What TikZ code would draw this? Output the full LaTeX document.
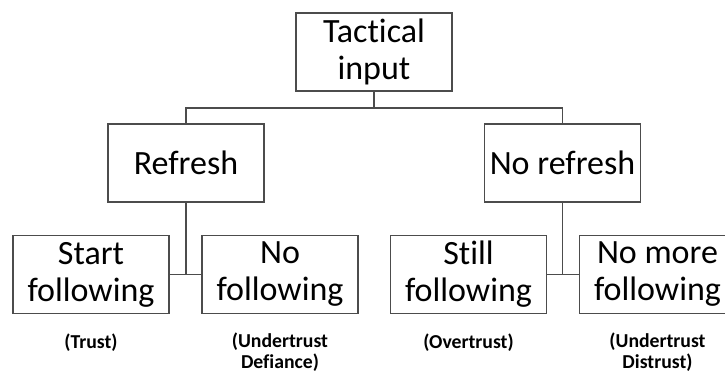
\documentclass[tikz,border=0pt]{standalone}
\usepackage{fontspec}
\setmainfont{Carlito}[Ligatures=NoCommon]
\usepackage{tikz}

\begin{document}
\begin{tikzpicture}[x=0.75pt, y=-0.75pt]
            \tikzstyle{choice}=[rectangle, draw=black!70, line width=0.8pt, minimum width=117pt, minimum height=58.5pt, inner sep=0pt, align=center, font=\fontsize{25.5}{27.75}\selectfont]
            \tikzstyle{result}=[align=center, font=\fontsize{14.8}{15.75}\selectfont\bfseries]
            \tikzstyle{link}=[draw=black!70, line width=0.8pt]

                \useasboundingbox (0,0) rectangle (725,374);
                \clip (0,0) rectangle (725,374);

                % Caixas
                \node[choice] (tact) at (374,52) {Tactical\\input};
                \node[choice] (refresh) at (186,163) {Refresh};
                \node[choice] (norefresh) at (562.5,163) {No refresh};
                \node[choice] (start) at (91,274.5) {Start\\following};
                \node[choice] (nofol) at (280,274.5) {No\\following};
                \node[choice] (still) at (468.5,274.5) {Still\\following};
                \node[choice] (nomore) at (657.5,274.5) {No more\\following};

                \coordinate (top) at (374,108);
                \coordinate (left) at (186,274.5);
                \coordinate (right) at (562.5,274.5);

                % Ligacoes
                \draw[link] (tact) -- (top);
                \draw[link] (refresh.north) |- (top);
                \draw[link] (norefresh.north) |- (top);
                \draw[link] (refresh) -- (left);
                \draw[link] (start.east) -- (nofol.west);
                \draw[link] (norefresh) -- (right);
                \draw[link] (still.east) -- (nomore.west);

                % Rotulos
                \node[result] (trust) at (91,343) {(Trust)};
                \node[result] (defiance) at (280,352.5) {(Undertrust\\Defiance)};
                \node[result] (overtrust) at (468.5,343) {(Overtrust)};
                \node[result] (distrust) at (657.5,352.5) {(Undertrust\\Distrust)};
        \end{tikzpicture}
\end{document}
